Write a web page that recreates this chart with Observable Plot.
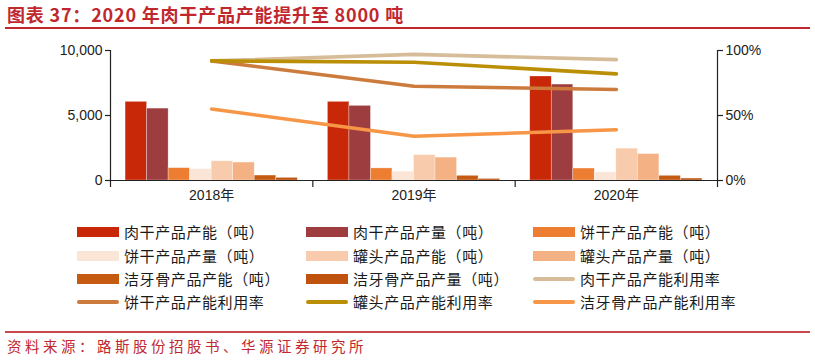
<!DOCTYPE html>
<html><head><meta charset="utf-8">
<script src="https://cdn.jsdelivr.net/npm/d3@7"></script>
<script src="https://cdn.jsdelivr.net/npm/@observablehq/plot@0.6"></script>
<style>
body{margin:0;background:#fff;}
#root{position:relative;width:815px;height:364px;overflow:hidden;font-family:"Liberation Sans","Noto Sans CJK SC",sans-serif;background:#fff;}
.title{position:absolute;left:7px;top:3px;font-family:"Noto Sans CJK SC",sans-serif;font-weight:bold;font-size:18px;line-height:22px;letter-spacing:0.8px;color:#C0282E;white-space:nowrap;}
.hr{position:absolute;left:5px;width:805px;background:#C0282E;}
.src{position:absolute;left:7px;top:337px;font-family:"Noto Sans CJK SC",sans-serif;font-size:14.5px;line-height:18px;letter-spacing:3.5px;color:#C0282E;white-space:nowrap;}
.layer{position:absolute;left:0;top:35px;}
.leg{position:absolute;display:flex;align-items:center;font-family:"Noto Sans CJK SC",sans-serif;font-size:15px;line-height:18px;letter-spacing:0.6px;color:#1a1a1a;white-space:nowrap;}
.sw{display:inline-block;width:42px;margin-right:5px;}
</style></head><body><div id="root"></div>
<script>
// categories
const years = ["2018年", "2019年", "2020年"];
// bar series names
const barSeries = ["肉干产品产能（吨）", "肉干产品产量（吨）", "饼干产品产能（吨）", "饼干产品产量（吨）",
  "罐头产品产能（吨）", "罐头产品产量（吨）", "洁牙骨产品产能（吨）", "洁牙骨产品产量（吨）"];
const barColors = ["#C82808", "#9E3D3F", "#ED7D31", "#FBE5D6", "#F8CBAD", "#F4B183", "#C55A11", "#BF520F"];
// bar values (吨)
const meatCap = [6050, 6050, 8000];
const meatOut = [5530, 5740, 7380];
const biscuitCap = [950, 930, 920];
const biscuitOut = [870, 680, 630];
const cannedCap = [1480, 1950, 2450];
const cannedOut = [1380, 1760, 2030];
const dentalCap = [380, 360, 360];
const dentalOut = [200, 120, 150];
// line series (utilisation %)
const lineSeries = ["肉干产品产能利用率", "饼干产品产能利用率", "罐头产品产能利用率", "洁牙骨产品产能利用率"];
const lineColors = ["#D6BC98", "#CD7B3C", "#BA8F06", "#F79646"];
const meatRate = [92, 97, 93];
const biscuitRate = [92, 72.5, 70];
const cannedRate = [92, 91, 82];
const dentalRate = [55, 34, 39];
// axis ticks
const leftTicks = [0, 5000, 10000];
const rightTicks = [0, 50, 100];
const leftMax = 10000;

const title = "图表 37：2020 年肉干产品产能提升至 8000 吨";
const source = "资料来源：路斯股份招股书、华源证券研究所";

const barValues = [meatCap, meatOut, biscuitCap, biscuitOut, cannedCap, cannedOut, dentalCap, dentalOut];
const barData = [];
years.forEach((y, i) => barSeries.forEach((s, j) => barData.push({year: y, series: s, value: barValues[j][i]})));
const rateValues = [meatRate, biscuitRate, cannedRate, dentalRate];
const lineData = [];
lineSeries.forEach((s, j) => years.forEach((y, i) => lineData.push({idx: i, series: s, rate: rateValues[j][i]})));

const root = document.getElementById("root");
const W = 815, H = 175;
const common = {width: W, height: H, marginLeft: 110, marginRight: 98, marginTop: 15, marginBottom: 30,
  style: {background: "transparent", fontFamily: "'Liberation Sans','Noto Sans CJK SC',sans-serif", fontSize: "14px", color: "#222", overflow: "visible"}};

const bars = Plot.plot({
  ...common,
  fx: {domain: years, padding: 0, round: false, axis: null, label: null},
  x: {domain: barSeries, paddingInner: 0, paddingOuter: 0.7, round: false, axis: null, label: null},
  y: {domain: [0, leftMax], axis: null},
  color: {domain: barSeries, range: barColors},
  marks: [
    Plot.barY(barData, {fx: "year", x: "series", y: "value", fill: "series", stroke: "white", strokeWidth: 0.6, strokeOpacity: 0.5})
  ]
});
bars.classList.add("layer");
root.appendChild(bars);

const lines = Plot.plot({
  ...common,
  x: {type: "linear", domain: [-0.5, years.length - 0.5], axis: null},
  y: {domain: [0, leftMax], axis: null},
  color: {domain: lineSeries, range: lineColors},
  marks: [
    Plot.line(lineData, {x: "idx", y: d => d.rate * leftMax / 100, z: "series", stroke: "series", strokeWidth: 3.6, strokeLinecap: "round", strokeLinejoin: "round"}),
    Plot.ruleY([0], {stroke: "#222", strokeWidth: 1.2}),
    Plot.ruleX([-0.5, years.length - 0.5], {y1: 0, y2: leftMax, stroke: "#222", strokeWidth: 1.2}),
    Plot.axisY({anchor: "left", ticks: leftTicks, tickSize: 5, tickPadding: 3, tickFormat: d3.format(","), stroke: "#222", strokeWidth: 1.2, fill: "#222", label: null}),
    Plot.axisY({anchor: "right", ticks: rightTicks.map(p => p * leftMax / 100), tickSize: 5, tickPadding: 3, tickFormat: d => Math.round(d / leftMax * 100) + "%", stroke: "#222", strokeWidth: 1.2, fill: "#222", label: null}),
    Plot.axisX({anchor: "bottom", ticks: d3.range(years.length + 1).map(i => i - 0.5), tickSize: 7, tickFormat: () => "", stroke: "#222", strokeWidth: 1.2, label: null}),
    Plot.axisX({anchor: "bottom", ticks: d3.range(years.length), tickSize: 0, tickPadding: 10, tickFormat: i => years[i], fill: "#222", label: null})
  ]
});
lines.classList.add("layer");
root.appendChild(lines);

// title & rules
const t = document.createElement("div"); t.className = "title"; t.textContent = title; root.appendChild(t);
const h1 = document.createElement("div"); h1.className = "hr"; h1.style.top = "27px"; h1.style.height = "2px"; root.appendChild(h1);
const h2 = document.createElement("div"); h2.className = "hr"; h2.style.top = "331px"; h2.style.height = "1.5px"; h2.style.background = "#C8474C"; root.appendChild(h2);
const s = document.createElement("div"); s.className = "src"; s.textContent = source; root.appendChild(s);

// legend
const items = barSeries.map((n, i) => ({name: n, color: barColors[i], type: "bar"}))
  .concat(lineSeries.map((n, i) => ({name: n, color: lineColors[i], type: "line"})));
const colX = [77, 306, 533];
const rowY = [232, 255.5, 279, 302];
items.forEach((it, k) => {
  const col = k % 3, row = Math.floor(k / 3);
  const d = document.createElement("div");
  d.className = "leg";
  d.style.left = colX[col] + "px";
  d.style.top = (rowY[row] - 9) + "px";
  const sw = document.createElement("span");
  sw.className = "sw";
  sw.style.background = it.color;
  if (it.type === "bar") { sw.style.height = "10px"; }
  else { sw.style.height = "4.5px"; sw.style.borderRadius = "3px"; }
  d.appendChild(sw);
  const tx = document.createElement("span"); tx.textContent = it.name; d.appendChild(tx);
  root.appendChild(d);
});
</script></body></html>
